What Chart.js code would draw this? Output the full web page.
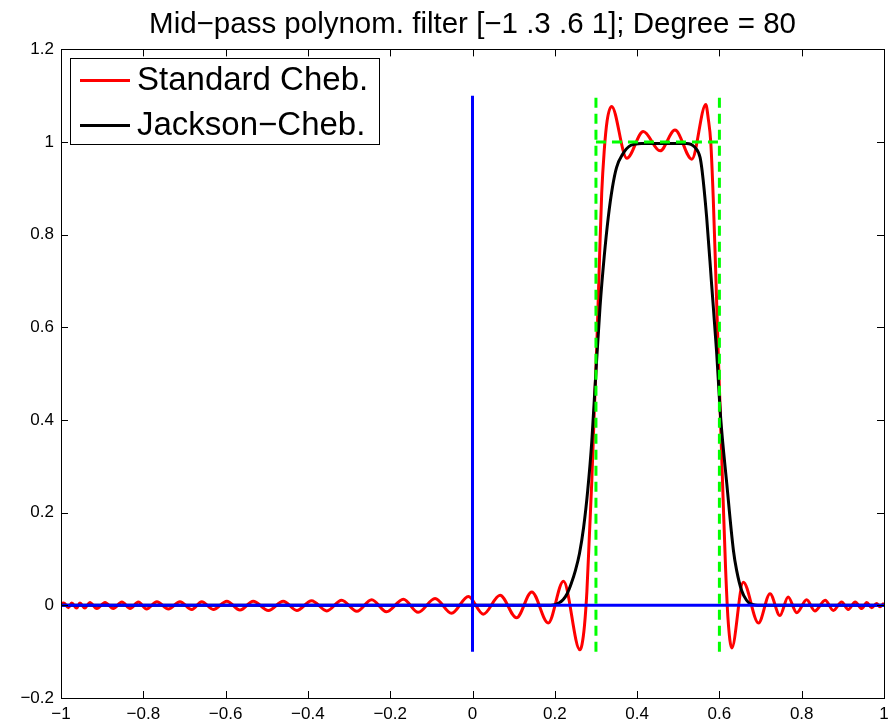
<!DOCTYPE html>
<html>
<head>
<meta charset="utf-8">
<title>Mid-pass polynomial filter</title>
<script src="https://cdn.jsdelivr.net/npm/chart.js@4.4.0/dist/chart.umd.min.js"></script>
<style>
  html, body { margin: 0; padding: 0; background: #fff; }
</style>
</head>
<body>
<canvas id="filterChart" width="890" height="722"></canvas>
<script>
// Values
const chartTitle = 'Mid\u2212pass polynom. filter [\u22121 .3 .6 1]; Degree = 80';

// Standard Chebyshev expansion (extrema and edge points)
const redX = [-1, -0.993, -0.982, -0.974, -0.962, -0.954, -0.942, -0.930, -0.913, -0.893,
  -0.873, -0.852, -0.832, -0.812, -0.792, -0.767, -0.739, -0.711, -0.682, -0.658,
  -0.630, -0.597, -0.565, -0.533, -0.496, -0.460, -0.427, -0.391, -0.354, -0.318,
  -0.281, -0.245, -0.209, -0.168, -0.132, -0.091, -0.051, -0.010, 0.026, 0.067,
  0.107, 0.144, 0.184, 0.221, 0.261, 0.266, 0.272, 0.278, 0.284, 0.290,
  0.296, 0.302, 0.308, 0.314, 0.320, 0.327, 0.338, 0.375, 0.415, 0.456,
  0.492, 0.533, 0.567, 0.573, 0.579, 0.585, 0.591, 0.597, 0.603, 0.609,
  0.615, 0.621, 0.630, 0.658, 0.695, 0.723, 0.747, 0.767, 0.788, 0.812,
  0.832, 0.857, 0.877, 0.897, 0.913, 0.930, 0.946, 0.958, 0.970, 0.982,
  0.990, 1.0];
const redY = [0.004, 0.005, -0.005, 0.005, -0.006, 0.005, -0.006, 0.006, -0.007, 0.006,
  -0.007, 0.007, -0.007, 0.007, -0.008, 0.008, -0.008, 0.008, -0.009, 0.008,
  -0.009, 0.009, -0.010, 0.009, -0.011, 0.009, -0.011, 0.010, -0.012, 0.011,
  -0.013, 0.012, -0.014, 0.013, -0.015, 0.015, -0.017, 0.019, -0.019, 0.022,
  -0.027, 0.029, -0.038, 0.052, -0.096, -0.085, -0.045, 0.03, 0.15, 0.27,
  0.42, 0.56, 0.73, 0.89, 0.98, 1.045, 1.077, 0.965, 1.023, 0.981,
  1.026, 0.963, 1.081, 1.05, 1.0, 0.88, 0.72, 0.55, 0.39, 0.23,
  0.08, -0.03, -0.092, 0.05, -0.038, 0.025, -0.022, 0.018, -0.016, 0.012,
  -0.012, 0.011, -0.011, 0.007, -0.009, 0.007, -0.007, 0.006, -0.005, 0.004,
  -0.003, 0.005];

// Jackson-damped Chebyshev expansion
const blackX = [-1, 0.19, 0.21, 0.22, 0.23, 0.24, 0.25, 0.26, 0.27, 0.28,
  0.29, 0.30, 0.31, 0.32, 0.33, 0.34, 0.35, 0.365, 0.385, 0.41,
  0.52, 0.54, 0.553, 0.558, 0.569, 0.581, 0.593, 0.603, 0.618, 0.634,
  0.642, 0.654, 0.666, 0.676, 0.70, 1];
const blackY = [0, 0, 0.005, 0.012, 0.025, 0.047, 0.075, 0.112, 0.168, 0.248,
  0.355, 0.505, 0.645, 0.752, 0.838, 0.902, 0.945, 0.974, 0.993, 0.997,
  0.997, 0.989, 0.967, 0.938, 0.838, 0.694, 0.55, 0.406, 0.262, 0.119,
  0.075, 0.032, 0.011, 0.003, 0, 0];

// Blue axes lines
const axisHX = [-1, 1];
const axisHY = [0, 0];
const axisVX = [0, 0];
const axisVY = [-0.1, 1.1];

// Green dashed ideal filter (null = break)
const idealX = [0.3, 0.3, null, 0.3, 0.6, null, 0.6, 0.6];
const idealY = [-0.1, 1.1, null, 1, 1, null, -0.1, 1.1];

const xTicks = [-1, -0.8, -0.6, -0.4, -0.2, 0, 0.2, 0.4, 0.6, 0.8, 1];
const yTicks = [-0.2, 0, 0.2, 0.4, 0.6, 0.8, 1, 1.2];

const FONT = "'Liberation Sans', Arial, Helvetica, sans-serif";
const TICK = 7;

function toPoints(xs, ys) {
  return xs.map((x, i) => (x === null ? { x: NaN, y: null } : { x: x, y: ys[i] }));
}

function fmt(v) {
  const s = String(Math.round(v * 10) / 10);
  return s.replace('-', '\u2212');
}

// box + inward ticks on all four sides, like matlab
const frameAndTicks = {
  id: 'frameAndTicks',
  afterDatasetsDraw(chart) {
    const { ctx, chartArea: a, scales } = chart;
    ctx.save();
    ctx.strokeStyle = '#000';
    ctx.lineWidth = 1;
    ctx.beginPath();
    xTicks.forEach(v => {
      const px = Math.round(scales.x.getPixelForValue(v)) + 0.5;
      ctx.moveTo(px, a.bottom); ctx.lineTo(px, a.bottom - TICK);
      ctx.moveTo(px, a.top); ctx.lineTo(px, a.top + TICK);
    });
    yTicks.forEach(v => {
      const py = Math.round(scales.y.getPixelForValue(v)) + 0.5;
      ctx.moveTo(a.left, py); ctx.lineTo(a.left + TICK, py);
      ctx.moveTo(a.right, py); ctx.lineTo(a.right - TICK, py);
    });
    ctx.stroke();
    ctx.strokeRect(Math.round(a.left) + 0.5, Math.round(a.top) + 0.5,
      Math.round(a.right - a.left), Math.round(a.bottom - a.top));
    ctx.restore();
  }
};

// boxed legend in the upper left corner
const boxLegend = {
  id: 'boxLegend',
  afterDraw(chart) {
    const { ctx, chartArea: a } = chart;
    const items = chart.data.datasets.filter(d => d.inLegend);
    const left = a.left + 9, top = a.top + 9;
    const rowH = 45;
    ctx.save();
    ctx.font = '33px ' + FONT;
    let textW = 0;
    items.forEach(d => { textW = Math.max(textW, ctx.measureText(d.label).width); });
    const w = 67 + textW + 11;
    const h = rowH * items.length - 4;
    ctx.fillStyle = '#fff';
    ctx.fillRect(left, top, w, h);
    ctx.strokeStyle = '#000';
    ctx.lineWidth = 1;
    ctx.strokeRect(Math.round(left) + 0.5, Math.round(top) + 0.5, Math.round(w), Math.round(h));
    items.forEach((d, i) => {
      const cy = top + 22 + i * rowH;
      ctx.strokeStyle = d.borderColor;
      ctx.lineWidth = 3;
      ctx.beginPath();
      ctx.moveTo(left + 10, cy);
      ctx.lineTo(left + 60, cy);
      ctx.stroke();
      ctx.fillStyle = '#000';
      ctx.textBaseline = 'middle';
      ctx.fillText(d.label, left + 67, cy + 1);
    });
    ctx.restore();
  }
};

document.addEventListener('DOMContentLoaded', function() {
  Chart.defaults.font.family = FONT;
  Chart.defaults.color = '#000';

  new Chart(document.getElementById('filterChart'), {
    type: 'line',
    data: {
      datasets: [
        {
          label: 'Standard Cheb.',
          inLegend: true,
          data: toPoints(redX, redY),
          borderColor: '#ff0000',
          borderWidth: 3,
          cubicInterpolationMode: 'monotone',
          pointRadius: 0,
          order: 4
        },
        {
          label: 'Jackson\u2212Cheb.',
          inLegend: true,
          data: toPoints(blackX, blackY),
          borderColor: '#000000',
          borderWidth: 3,
          cubicInterpolationMode: 'monotone',
          pointRadius: 0,
          order: 3
        },
        {
          label: 'zero',
          data: toPoints(axisHX, axisHY),
          borderColor: '#0000ff',
          borderWidth: 3,
          pointRadius: 0,
          order: 2
        },
        {
          label: 'origin',
          data: toPoints(axisVX, axisVY),
          borderColor: '#0000ff',
          borderWidth: 3,
          pointRadius: 0,
          order: 2
        },
        {
          label: 'ideal',
          data: toPoints(idealX, idealY),
          borderColor: '#00ff00',
          borderWidth: 3,
          borderDash: [10, 6],
          pointRadius: 0,
          spanGaps: false,
          order: 1
        }
      ]
    },
    options: {
      responsive: false,
      animation: false,
      layout: { padding: { left: 0, right: 6, top: 0, bottom: 0 } },
      plugins: {
        legend: { display: false },
        tooltip: { enabled: false },
        title: {
          display: true,
          fullSize: false,
          text: chartTitle,
          color: '#000',
          font: { size: 29.5, weight: 'normal', family: FONT },
          padding: { top: 7, bottom: 7 }
        }
      },
      scales: {
        x: {
          type: 'linear',
          min: -1,
          max: 1,
          grid: { display: false, drawTicks: false },
          border: { display: false },
          afterBuildTicks: scale => { scale.ticks = xTicks.map(v => ({ value: v })); },
          ticks: { font: { size: 17 }, padding: 6, maxRotation: 0, callback: v => fmt(v) },
          afterFit: scale => {
            scale.height = 24;
            scale.paddingLeft = 0;
            scale.paddingRight = 0;
          }
        },
        y: {
          type: 'linear',
          min: -0.2,
          max: 1.2,
          grid: { display: false, drawTicks: false },
          border: { display: false },
          afterBuildTicks: scale => { scale.ticks = yTicks.map(v => ({ value: v })); },
          ticks: { font: { size: 17 }, padding: 7, callback: v => fmt(v) },
          afterFit: scale => {
            scale.width = 61;
            scale.paddingTop = 0;
            scale.paddingBottom = 0;
          }
        }
      }
    },
    plugins: [frameAndTicks, boxLegend]
  });
});
</script>
</body>
</html>
